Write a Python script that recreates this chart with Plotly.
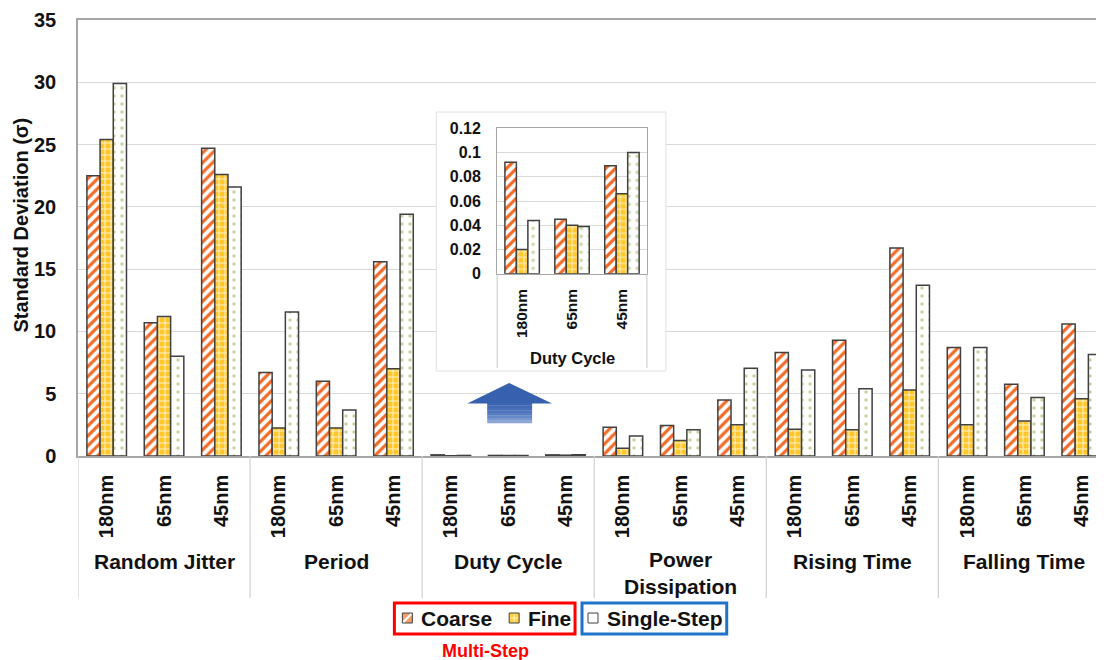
import plotly.graph_objects as go

# ---------------- data ----------------
groups = ["Random Jitter", "Period", "Duty Cycle", "Power<br>Dissipation", "Rising Time", "Falling Time"]
nodes = ["180nm", "65nm", "45nm"]

coarse = [22.5, 10.7, 24.7, 6.7, 6.0, 15.6, 0.092, 0.045, 0.089, 2.3, 2.45, 4.5, 8.3, 9.3, 16.7, 8.7, 5.75, 10.6]
fine = [25.4, 11.2, 22.6, 2.25, 2.25, 7.0, 0.020, 0.040, 0.066, 0.63, 1.25, 2.5, 2.15, 2.1, 5.3, 2.5, 2.8, 4.6]
single = [29.9, 8.0, 21.6, 11.55, 3.7, 19.4, 0.044, 0.039, 0.100, 1.6, 2.1, 7.05, 6.9, 5.4, 13.7, 8.7, 4.7, 8.15]

series_names = ["Coarse", "Fine", "Single-Step"]
y_title = "Standard Deviation (σ)"
inset_title = "Duty Cycle"
group_caption = "Multi-Step"

# inset (Duty Cycle) values, taken from the same series
duty_slice = slice(6, 9)

# ---------------- layout helpers ----------------
OFF = 8                      # page body margin
W, H = 1104 - OFF, 660 - OFF
PL, PT, PW, PH = 78 - OFF, 20 - OFF, 1026, 436
FONT = "Liberation Sans, Arial, sans-serif"
XMAX = -0.5 + PW / 57.47


def px(xs):   # screen x -> paper fraction
    return (xs - OFF - PL) / PW


def py(ys):   # screen y -> paper fraction
    return (PT + PH - (ys - OFF)) / PH


def dx(xs):   # screen x -> main data x
    return -0.5 + (xs - OFF - PL) / 57.47


def dy(ys):   # screen y -> main data y
    return (PT + PH - (ys - OFF)) * 35 / PH


styles = {
    "Coarse": dict(color="white", pattern=dict(shape="/", fgcolor="#f26a25", bgcolor="white", size=7, solidity=0.45, fillmode="replace")),
    "Fine": dict(color="#ffc72c", pattern=dict(shape="+", fgcolor="#fff4cc", bgcolor="#ffc72c", size=6, solidity=0.3, fillmode="replace")),
    "Single-Step": dict(color="white", pattern=dict(shape=".", fgcolor="#c6d69c", bgcolor="white", size=8, solidity=0.15, fillmode="replace")),
}

fig = go.Figure()
xpos = list(range(len(coarse)))
for name, vals in zip(series_names, [coarse, fine, single]):
    st = styles[name]
    fig.add_bar(
        x=xpos, y=vals, name=name, showlegend=False,
        marker=dict(color=st["color"], pattern=st["pattern"], line=dict(color="#404040", width=1.5)),
        xaxis="x", yaxis="y",
    )

for name, vals in zip(series_names, [coarse, fine, single]):
    st = styles[name]
    fig.add_bar(
        x=nodes, y=vals[duty_slice], name=name, showlegend=False,
        marker=dict(color=st["color"], pattern=st["pattern"], line=dict(color="#404040", width=1.5)),
        xaxis="x2", yaxis="y2",
    )

shapes = []
# inset white box (between grid and traces of the main subplot)
shapes.append(dict(type="rect", xref="x", yref="y", x0=dx(437), x1=dx(667), y0=dy(371), y1=dy(112),
                   fillcolor="white", line=dict(color="#e0e0e0", width=1), layer="between"))
# inset extended side lines
for xd in [0, 1]:
    shapes.append(dict(type="line", xref="x2 domain", yref="paper", x0=xd, x1=xd, y0=py(368), y1=py(274),
                       line=dict(color="#c8c8c8", width=1), layer="above"))

# group separators under the main axis
for b in [-0.5, 2.5, 5.5, 8.5, 11.5, 14.5]:
    shapes.append(dict(type="line", xref="x", yref="paper", x0=b, x1=b, y0=0, y1=py(598),
                       line=dict(color="#d0d0d0", width=1.2), layer="above"))

# arrow (head + gradient shaft)
shapes.append(dict(type="path", xref="paper", yref="paper",
                   path=f"M {px(468)} {py(403.5)} L {px(510)} {py(383)} L {px(553)} {py(403.5)} Z",
                   fillcolor="#3760ae", line=dict(width=0), layer="above"))
shaft_cols = ["#3d65b1", "#4169b4", "#476eb7", "#4f75bc", "#5a7ec2", "#6889c8", "#7897cf", "#8aa5d6"]
n = len(shaft_cols)
for i, c in enumerate(shaft_cols):
    y0s = 403 + i * 20 / n
    y1s = 403 + (i + 1) * 20 / n
    shapes.append(dict(type="rect", xref="paper", yref="paper", x0=px(488), x1=px(533),
                       y0=py(y1s + 0.3), y1=py(y0s), fillcolor=c, line=dict(width=0), layer="above"))

# custom legend: boxes
shapes.append(dict(type="rect", xref="paper", yref="paper", x0=px(395), x1=px(576), y0=py(634), y1=py(603),
                   line=dict(color="#ff0000", width=3), fillcolor="rgba(0,0,0,0)"))
shapes.append(dict(type="rect", xref="paper", yref="paper", x0=px(583), x1=px(728), y0=py(634), y1=py(603),
                   line=dict(color="#1f74c8", width=3), fillcolor="rgba(0,0,0,0)"))

# custom legend: swatches
sw_left = {"Coarse": 403, "Fine": 510, "Single-Step": 589}
sw_fill = {"Coarse": "#f5a06c", "Fine": "#ffd040", "Single-Step": "white"}
text_left = {"Coarse": 420, "Fine": 527, "Single-Step": 606}
for name in series_names:
    x0 = sw_left[name]
    shapes.append(dict(type="rect", xref="paper", yref="paper", x0=px(x0), x1=px(x0 + 10),
                       y0=py(623), y1=py(613), fillcolor=sw_fill[name], line=dict(color="#404040", width=1)))
shapes.append(dict(type="line", xref="paper", yref="paper", x0=px(404), x1=px(412), y0=py(622), y1=py(614),
                   line=dict(color="white", width=2)))
shapes.append(dict(type="line", xref="paper", yref="paper", x0=px(511), x1=px(519), y0=py(618), y1=py(618),
                   line=dict(color="#fff4cc", width=1)))
shapes.append(dict(type="line", xref="paper", yref="paper", x0=px(515), x1=px(515), y0=py(622), y1=py(614),
                   line=dict(color="#fff4cc", width=1)))

annotations = []
for name in series_names:
    annotations.append(dict(text=name, x=px(text_left[name]), xref="paper", y=py(618.5), yref="paper",
                            showarrow=False, xanchor="left", yanchor="middle",
                            font=dict(family=FONT, size=21, color="#111111", weight="bold")))
for i, g in enumerate(groups):
    yy = py(573) if "<br>" in g else py(561)
    annotations.append(dict(text=g, x=3 * i + 1, xref="x", y=yy, yref="paper", showarrow=False,
                            font=dict(family=FONT, size=21, color="#111111", weight="bold"),
                            xanchor="center", yanchor="middle"))
annotations.append(dict(text=inset_title, x=1, xref="x2", y=py(358), yref="paper", showarrow=False,
                        font=dict(family=FONT, size=16.5, color="#111111", weight="bold"),
                        xanchor="center", yanchor="middle"))
annotations.append(dict(text=group_caption, x=px(486), xref="paper", y=py(651), yref="paper", showarrow=False,
                        font=dict(family=FONT, size=18, color="#ff0000", weight="bold"),
                        xanchor="center", yanchor="middle"))
annotations.append(dict(text=y_title, x=px(20.5), xref="paper", y=py(225), yref="paper", showarrow=False,
                        textangle=-90, xanchor="center", yanchor="middle",
                        font=dict(family=FONT, size=20, color="#111111", weight="bold")))

bold20 = dict(family=FONT, size=20, color="#111111", weight="bold")

fig.update_layout(
    width=W, height=H,
    margin=dict(l=PL, r=0, t=PT, b=H - PT - PH),
    paper_bgcolor="white", plot_bgcolor="white",
    barmode="group", bargap=0.31, bargroupgap=0,
    font=dict(family=FONT, color="#111111"),
    showlegend=False,
    xaxis=dict(range=[-0.5, XMAX], tickvals=xpos, ticktext=nodes * len(groups), tickangle=-90,
               tickfont=bold20, ticks="outside", ticklen=9, tickcolor="rgba(0,0,0,0)",
               showline=True, linecolor="#a6a6a6", linewidth=1.5, mirror=True, showgrid=False, zeroline=False),
    yaxis=dict(range=[0, 35], dtick=5, tickfont=bold20, ticks="outside", ticklen=16, tickcolor="rgba(0,0,0,0)",
               showline=True, linecolor="#a6a6a6", linewidth=1.5, mirror=True,
               gridcolor="#d9d9d9", gridwidth=1, zeroline=False),
    xaxis2=dict(domain=[px(498), px(648)], anchor="y2", type="category", tickangle=-90,
                tickfont=dict(family=FONT, size=15.5, color="#111111", weight="bold"),
                ticks="outside", ticklen=8, tickcolor="rgba(0,0,0,0)",
                showline=True, linecolor="#a6a6a6", linewidth=1.2, mirror=True, showgrid=False),
    yaxis2=dict(domain=[py(273.7), py(128.3)], anchor="x2", range=[0, 0.12], dtick=0.02,
                tickfont=dict(family=FONT, size=16, color="#111111", weight="bold"),
                ticks="outside", ticklen=12, tickcolor="rgba(0,0,0,0)",
                showline=True, linecolor="#a6a6a6", linewidth=1.2, mirror=True,
                gridcolor="#d9d9d9", zeroline=False),
    shapes=shapes,
    annotations=annotations,
)

fig.write_html("out.html")
